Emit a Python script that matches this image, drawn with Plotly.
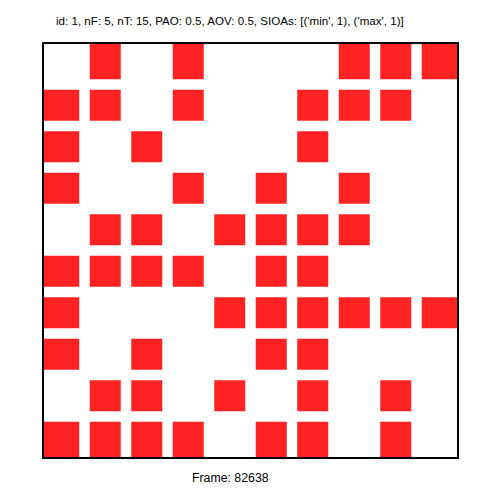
import plotly.graph_objects as go

# occupied cells per row (row 0 = top), column indices
rows = list(range(10))
cols_per_row = [
    [1, 3, 7, 8, 9],
    [0, 1, 3, 6, 7, 8],
    [0, 2, 6],
    [0, 3, 5, 7],
    [1, 2, 4, 5, 6, 7],
    [0, 1, 2, 3, 5, 6],
    [0, 4, 5, 6, 7, 8, 9],
    [0, 2, 5, 6],
    [1, 2, 4, 6, 8],
    [0, 1, 2, 3, 5, 6, 8],
]
n_cols = 10
n_rows = 10
title_text = "id: 1, nF: 5, nT: 15, PAO: 0.5, AOV: 0.5, SIOAs: [('min', 1), ('max', 1)]"
frame_text = "Frame: 82638"

RED = "rgb(255,34,34)"
H = 0.3735  # half size of a square in cell units

shapes = []
for r, cols in zip(rows, cols_per_row):
    for c in cols:
        x0 = -0.5 if c == 0 else c - H
        x1 = n_cols - 0.5 if c == n_cols - 1 else c + H
        y0 = -0.5 if r == 0 else r - H
        y1 = n_rows - 0.5 if r == n_rows - 1 else r + H
        shapes.append(dict(type="rect", xref="x", yref="y", x0=x0, x1=x1, y0=y0, y1=y1,
                           fillcolor=RED, line=dict(width=0), layer="above"))

shapes.append(dict(type="rect", xref="paper", yref="paper", x0=0, x1=1, y0=0, y1=1,
                   line=dict(color="black", width=2), fillcolor="rgba(0,0,0,0)", layer="above"))

fig = go.Figure()
fig.add_trace(go.Scatter(x=[0, n_cols - 1], y=[0, n_rows - 1], mode="markers",
                         marker=dict(opacity=0), hoverinfo="skip", showlegend=False))

fig.update_layout(
    width=502, height=502,
    margin=dict(l=43, r=44, t=43, b=44),
    paper_bgcolor="white", plot_bgcolor="white",
    xaxis=dict(range=[-0.5, n_cols - 0.5], showgrid=False, zeroline=False,
               showticklabels=False, ticks="", fixedrange=True),
    yaxis=dict(range=[n_rows - 0.5, -0.5], showgrid=False, zeroline=False,
               showticklabels=False, ticks="", fixedrange=True),
    shapes=shapes,
    font=dict(family="Liberation Sans, Arial, sans-serif", size=11, color="black"),
    annotations=[
        dict(text=title_text, xref="paper", yref="paper", x=(229.5 - 43) / 415, y=1 + (43 - 20) / 415,
             xanchor="center", yanchor="middle", showarrow=False,
             font=dict(size=11.6)),
        dict(text=frame_text, xref="paper", yref="paper", x=(230 - 43) / 415, y=-(478 - 458) / 415,
             xanchor="center", yanchor="middle", showarrow=False,
             font=dict(size=12.3)),
    ],
)

fig.write_html("out.html")
